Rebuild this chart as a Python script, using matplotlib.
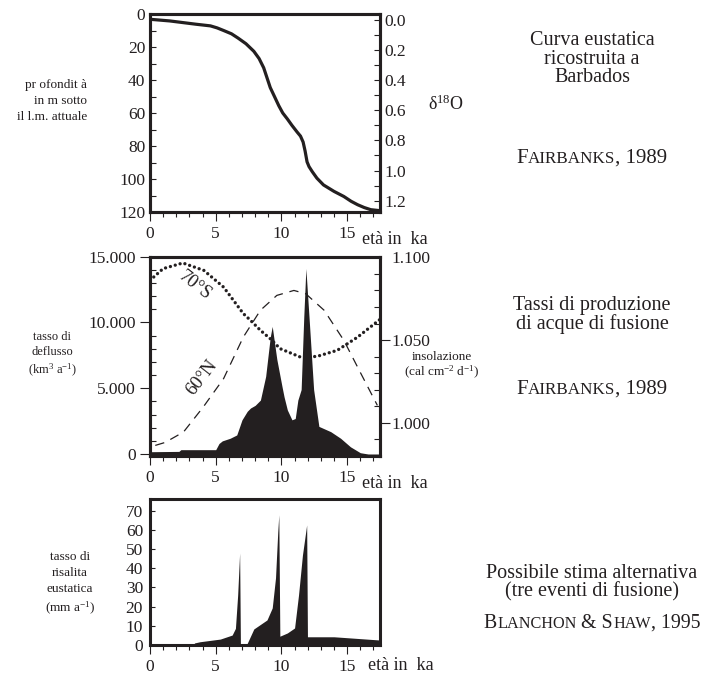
import numpy as np
import matplotlib
matplotlib.use("Agg")
import matplotlib.pyplot as plt
from matplotlib.ticker import MultipleLocator, FixedLocator, FixedFormatter

plt.rcParams['font.family'] = ['Liberation Serif', 'DejaVu Serif']
plt.rcParams['mathtext.fontset'] = 'custom'
plt.rcParams['mathtext.rm'] = 'Liberation Serif'
plt.rcParams['mathtext.it'] = 'Liberation Serif:italic'

INK = '#231f20'

# --- data ---
# sea level curve, Barbados (Fairbanks 1989)
age_sl = [0, 1.5, 2.5, 3.5, 4.6, 5.1, 5.6, 6.2, 6.7, 7.3, 7.9, 8.3, 8.65, 9.15,
          9.5, 9.8, 10.1, 10.45, 10.8, 11.2, 11.45, 11.65, 11.8, 11.95, 12.1,
          12.35, 12.7, 13.2, 14.0, 14.75, 15.3, 15.8, 16.3, 16.8, 17.5]
depth_sl = [3.2, 4.2, 5.2, 6.2, 7.2, 8.4, 10, 12, 14.6, 18, 22.6, 27, 32.6, 44.6,
            50.5, 55.6, 60, 63.6, 67.5, 71.6, 74, 77.6, 83, 89.6, 92.5,
            95.6, 99.5, 103.6, 107.5, 110.6, 113.5, 115.6, 117.3, 118.6, 119.2]

# meltwater discharge (km3/a)
age_melt = [0, 2.2, 2.35, 5.0, 5.25, 5.5, 6.1, 6.6, 7.0, 7.4, 7.65, 8.0, 8.4,
            8.8, 9.15, 9.3, 9.65, 10.05, 10.2, 10.45, 10.8, 11.05, 11.25, 11.5,
            11.7, 11.86, 12.1, 12.45, 12.85, 13.75, 14.5, 15.25, 16.0, 16.6, 17.5]
melt = [175, 200, 330, 330, 800, 1000, 1200, 1450, 2600, 3250, 3500, 3700, 4100,
        5900, 8900, 9700, 7200, 5100, 4350, 3350, 2600, 2700, 4100, 4900,
        10400, 14100, 10400, 4900, 2100, 1700, 1200, 550, 100, 0, 0]

# insolation curves
age_s70 = [0, 1.0, 2.5, 4.1, 5.6, 7.1, 7.65, 8.4, 9.15, 9.9, 11.45, 12.7, 14.25, 15.8, 17.5]
ins_s70 = [1.0861, 1.0932, 1.0966, 1.0921, 1.082, 1.066, 1.0619, 1.0559, 1.0508,
           1.0448, 1.0397, 1.0401, 1.0438, 1.0518, 1.0625]
age_n60 = [0.4, 1.15, 2.55, 4.05, 5.6, 7.1, 8.4, 9.65, 10.95, 11.85, 13.25, 14.75, 16.05, 17.3]
ins_n60 = [0.9863, 0.9881, 0.9944, 1.0095, 1.0267, 1.0518, 1.068, 1.077, 1.08,
           1.078, 1.068, 1.0498, 1.0297, 1.0105]

# sea level rise rate (Blanchon & Shaw 1995), mm/a
age_rise = [0, 3.3, 3.4, 3.8, 5.35, 6.25, 6.5, 6.67, 6.82, 6.88, 7.3, 7.38, 7.9,
            8.9, 9.3, 9.55, 9.72, 9.8, 9.88, 10.45, 11.0, 11.3, 11.6, 11.92,
            11.98, 14.0, 17.5]
rise = [0, 0.3, 1.0, 1.6, 3.0, 5.1, 8.6, 26, 48, 0, 0, 0.5, 8.3,
        13, 19.3, 35, 59, 68, 4.5, 6.2, 8.8, 26, 47, 62.7,
        4.2, 4.2, 2.5]

W, H = 706, 678
fig = plt.figure(figsize=(W / 100, H / 100), dpi=100)


def box(l, t, r, b):
    return [l / W, 1 - b / H, (r - l) / W, (b - t) / H]


def frame(ax, ka_x=0.92):
    for s in ax.spines.values():
        s.set_linewidth(2.2)
        s.set_color(INK)
    ax.set_xlim(0, 17.5)
    ax.xaxis.set_major_locator(FixedLocator([0, 5, 10, 15]))
    ax.xaxis.set_minor_locator(MultipleLocator(1))
    ax.tick_params(axis='x', which='major', direction='out', length=6.5, width=0.8,
                   color=INK, labelsize=12.5, pad=3.5, labelcolor=INK)
    ax.tick_params(axis='x', which='minor', direction='out', length=3.8, width=0.8, color=INK)
    ax.text(ka_x, -0.14, "età in  ka", transform=ax.transAxes, fontsize=13,
            ha='left', va='center', color=INK)


# ---------- panel 1 ----------
ax1 = fig.add_axes(box(150, 14, 380, 212))
frame(ax1)
ax1.plot(age_sl, depth_sl, color=INK, lw=2.3, solid_capstyle='round', solid_joinstyle='round')
ax1.set_ylim(120, 0)
ax1.yaxis.set_major_locator(MultipleLocator(20))
ax1.yaxis.set_minor_locator(MultipleLocator(10))
ax1.tick_params(axis='y', which='both', direction='in', length=4.3, width=0.8,
                color=INK, labelsize=12.5, pad=3.5, labelcolor=INK)
ax1b = ax1.twinx()
for s in ax1b.spines.values():
    s.set_linewidth(2.2)
    s.set_color(INK)
ax1b.set_ylim(1.275, -0.038)
ax1b.yaxis.set_major_locator(FixedLocator([0, 0.2, 0.4, 0.6, 0.8, 1.0, 1.2]))
ax1b.yaxis.set_major_formatter(FixedFormatter(['0.0', '0.2', '0.4', '0.6', '0.8', '1.0', '1.2']))
ax1b.yaxis.set_minor_locator(FixedLocator([0.1, 0.3, 0.5, 0.7, 0.9, 1.1]))
ax1b.tick_params(axis='y', which='both', direction='in', length=4.3, width=0.8,
                 color=INK, labelsize=12.5, pad=3.5, labelcolor=INK)

# ---------- panel 2 ----------
ax2 = fig.add_axes(box(150, 256.7, 380, 456))
frame(ax2)
ax2.fill_between(age_melt, melt, -200, color=INK, lw=0)
ax2.set_ylim(-150, 15000)
ax2.yaxis.set_major_locator(FixedLocator([0, 5000, 10000, 15000]))
ax2.yaxis.set_major_formatter(FixedFormatter(['0', '5.000', '10.000', '15.000']))
ax2.yaxis.set_minor_locator(FixedLocator(np.arange(1000, 15000, 1000)))
ax2.tick_params(axis='y', which='major', direction='out', length=7.2, width=0.8,
                color=INK, labelsize=12.5, pad=3.0, labelcolor=INK)
ax2.tick_params(axis='y', which='minor', direction='in', length=4.3, width=0.8, color=INK)
ax2.yaxis.get_major_ticks()[3].tick1line.set_visible(False)

ax2b = ax2.twinx()
for s in ax2b.spines.values():
    s.set_linewidth(2.2)
    s.set_color(INK)
ax2b.plot(age_s70, ins_s70, color=INK, lw=2.4, dashes=(0.01, 1.5),
          dash_capstyle='round')
ax2b.plot(age_n60, ins_n60, color=INK, lw=0.9, dashes=(7.5, 5.5))
ax2b.set_ylim(0.9799, 1.1004)
ax2b.yaxis.set_major_locator(FixedLocator([1.0, 1.05, 1.1]))
ax2b.yaxis.set_major_formatter(FixedFormatter(['1.000', '1.050', '1.100']))
ax2b.yaxis.set_minor_locator(FixedLocator(np.arange(0.99, 1.095, 0.01)))
ax2b.tick_params(axis='y', which='major', direction='out', length=7.2, width=0.8,
                 color=INK, labelsize=12.5, pad=1.0, labelcolor=INK)
ax2b.tick_params(axis='y', which='minor', direction='in', length=4.3, width=0.8, color=INK)
ax2b.yaxis.get_major_ticks()[2].tick2line.set_visible(False)

fig.text(195 / W, 1 - 286 / H, "70°S", rotation=-38, fontsize=13.5, color=INK,
         ha='center', va='center', rotation_mode='anchor')
fig.text(202 / W, 1 - 378 / H, "60°N", rotation=52, fontsize=13.5, color=INK,
         ha='center', va='center', rotation_mode='anchor')

# ---------- panel 3 ----------
ax3 = fig.add_axes(box(150, 499, 380, 645))
frame(ax3, ka_x=0.95)
ax3.fill_between(age_rise, rise, -1, color=INK, lw=0)
ax3.set_ylim(-0.1, 76.3)
ax3.yaxis.set_major_locator(MultipleLocator(10))
ax3.tick_params(axis='y', which='major', direction='in', length=3.6, width=0.8,
                color=INK, labelsize=12.5, pad=5, labelcolor=INK)

# ---------- side labels ----------
fig.text(87 / W, 1 - 101 / H, "pr ofondit à\nin m sotto\nil l.m. attuale", ha='right',
         va='center', multialignment='right', fontsize=9.5, linespacing=1.45, color=INK)
fig.text(52 / W, 1 - 355 / H, "tasso di\ndeflusso\n(km$^3$ a$^{-1}$)", ha='center',
         va='center', multialignment='center', fontsize=9, linespacing=1.3, color=INK)
fig.text(70 / W, 1 - 584 / H, "tasso di\nrisalita\neustatica\n(mm a$^{-1}$)", ha='center',
         va='center', multialignment='center', fontsize=9.5, linespacing=1.4, color=INK)
fig.text(428 / W, 1 - 104 / H, "δ$^{18}$O", ha='left', va='center', fontsize=13, color=INK)
fig.text(442 / W, 1 - 366 / H, "insolazione\n(cal cm$^{-2}$ d$^{-1}$)", ha='center',
         va='center', multialignment='center', fontsize=9.5, linespacing=1.15, color=INK)

XC = 592 / W
for txt, y in [("Curva eustatica\nricostruita a\nBarbados", 59),
               ("Tassi di produzione\ndi acque di fusione", 315),
               ("Possibile stima alternativa\n(tre eventi di fusione)", 583)]:
    fig.text(XC, 1 - y / H, txt, ha='center', va='center', multialignment='center',
             fontsize=14.5, linespacing=0.95, color=INK)

renderer = fig.canvas.get_renderer()


def small_caps(y, parts, size=15):
    texts = []
    for s, small in parts:
        t = fig.text(0, 1 - y / H, s, fontsize=size * 0.82 if small else size,
                     ha='left', va='baseline', color=INK)
        texts.append(t)
    widths = [t.get_window_extent(renderer).width for t in texts]
    x0 = XC * W - sum(widths) / 2
    for t, w in zip(texts, widths):
        t.set_x(x0 / W)
        x0 += w


small_caps(163, [("F", False), ("AIRBANKS", True), (", 1989", False)])
small_caps(394, [("F", False), ("AIRBANKS", True), (", 1989", False)])
small_caps(628, [("B", False), ("LANCHON", True), (" & S", False), ("HAW", True), (", 1995", False)],
           size=14.3)

fig.savefig("out.png", dpi=100)
